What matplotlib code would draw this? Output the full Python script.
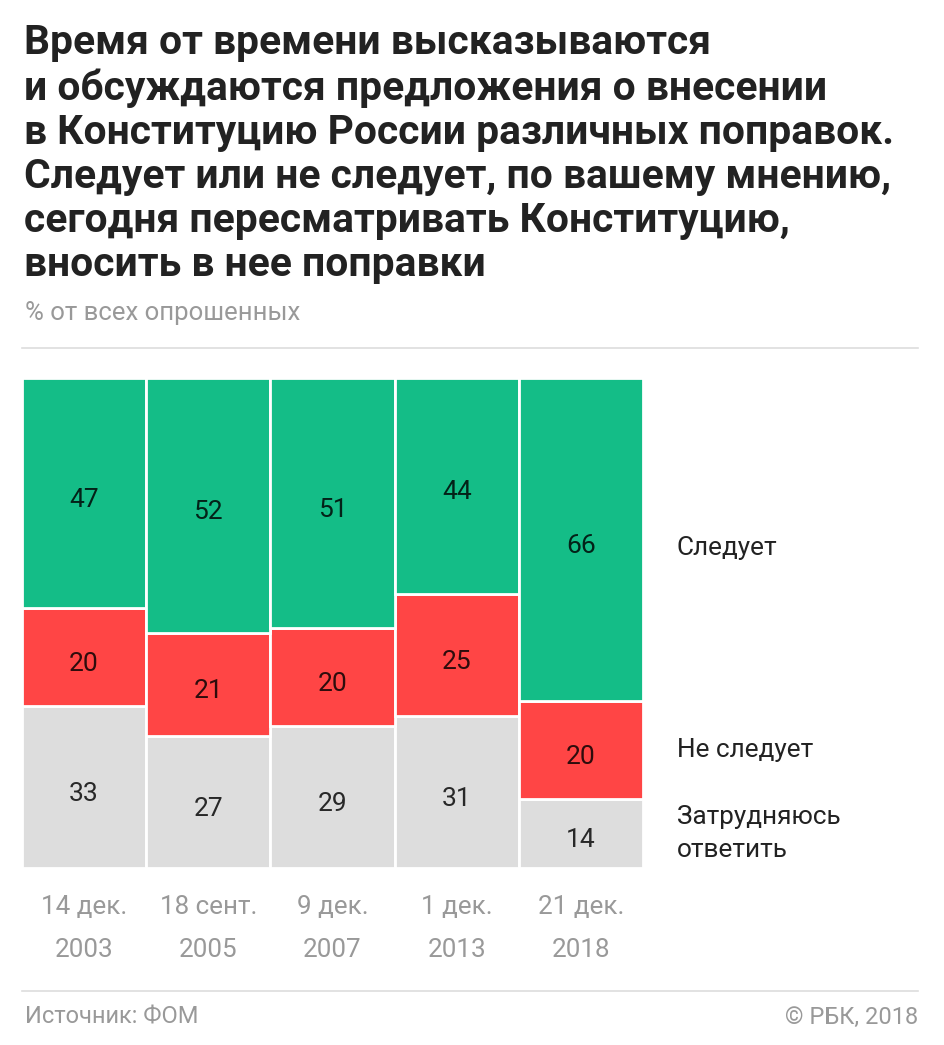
import matplotlib
matplotlib.use('Agg')
import matplotlib.pyplot as plt

plt.rcParams['font.family'] = ['Roboto', 'DejaVu Sans']

# Данные опроса ФОМ
dates = ['14 дек.\n2003', '18 сент.\n2005', '9 дек.\n2007', '1 дек.\n2013', '21 дек.\n2018']
yes_vals = [47, 52, 51, 44, 66]
no_vals = [20, 21, 20, 25, 20]
hard_vals = [33, 27, 29, 31, 14]
series_names = ['Следует', 'Не следует', 'Затрудняюсь\nответить']

green = '#14bd87'
red = '#ff4545'
grey = '#dddddd'
text_dark = '#222222'
text_grey = '#999999'

W, H = 945, 1045
fig = plt.figure(figsize=(W / 100, H / 100), dpi=100)

# заголовок
title = ('Время от времени высказываются\n'
         'и обсуждаются предложения о внесении\n'
         'в Конституцию России различных поправок.\n'
         'Следует или не следует, по вашему мнению,\n'
         'сегодня пересматривать Конституцию,\n'
         'вносить в нее поправки')
fig.text(24 / W, 1 - 24 / H, title, ha='left', va='top', fontsize=29.3,
         fontweight='bold', color=text_dark, linespacing=1.2)
fig.text(25 / W, 1 - 313 / H, '% от всех опрошенных', ha='left', va='center',
         fontsize=18.5, color=text_grey)

# линии-разделители
for y in (348, 991):
    fig.add_artist(plt.Line2D([22 / W, 918 / W], [1 - y / H, 1 - y / H],
                              color='#dddddd', linewidth=1.2))

ax = fig.add_axes([22 / W, 1 - 868 / H, (643 - 22) / W, (868 - 378) / H])
x = list(range(len(dates)))
bottoms_no = hard_vals
bottoms_yes = [h + n for h, n in zip(hard_vals, no_vals)]

bar_kw = dict(width=1.0, edgecolor='white', linewidth=2.0)
ax.bar(x, hard_vals, color=grey, **bar_kw)
ax.bar(x, no_vals, bottom=bottoms_no, color=red, **bar_kw)
ax.bar(x, yes_vals, bottom=bottoms_yes, color=green, **bar_kw)

lab_kw = dict(ha='center', va='center_baseline', fontsize=19, color='black',
              alpha=0.82, textcoords='offset points', xytext=(0, -3))
for i in x:
    ax.annotate(str(hard_vals[i]), (i, hard_vals[i] / 2), **lab_kw)
    ax.annotate(str(no_vals[i]), (i, bottoms_no[i] + no_vals[i] / 2), **lab_kw)
    ax.annotate(str(yes_vals[i]), (i, bottoms_yes[i] + yes_vals[i] / 2), **lab_kw)

ax.set_xlim(-0.5, len(dates) - 0.5)
ax.set_ylim(0, 100)
ax.set_xticks(x)
ax.set_xticklabels(dates, fontsize=18.7, color=text_grey, linespacing=1.97)
ax.tick_params(axis='x', length=0, pad=19.5)
ax.set_yticks([])
for s in ax.spines.values():
    s.set_visible(False)

# подписи серий справа от последнего столбца
last = len(dates) - 1
label_y = [bottoms_yes[last] + yes_vals[last] / 2,
           bottoms_no[last] + no_vals[last] / 2,
           hard_vals[last] / 2]
label_shift = [-6, 0, 0]
for name, yv, dy in zip(series_names, label_y, label_shift):
    ax.annotate(name, (last + 0.77, yv), xytext=(0, dy), textcoords='offset points',
                ha='left', va='center', fontsize=18.8, color=text_dark,
                linespacing=1.45, annotation_clip=False)

fig.text(25 / W, 1 - 1017 / H, 'Источник: ФОМ', ha='left', va='center',
         fontsize=17, color=text_grey)
fig.text(918 / W, 1 - 1017 / H, '© РБК, 2018', ha='right', va='center',
         fontsize=17, color=text_grey)

fig.savefig('out.png', dpi=100, facecolor='white')
